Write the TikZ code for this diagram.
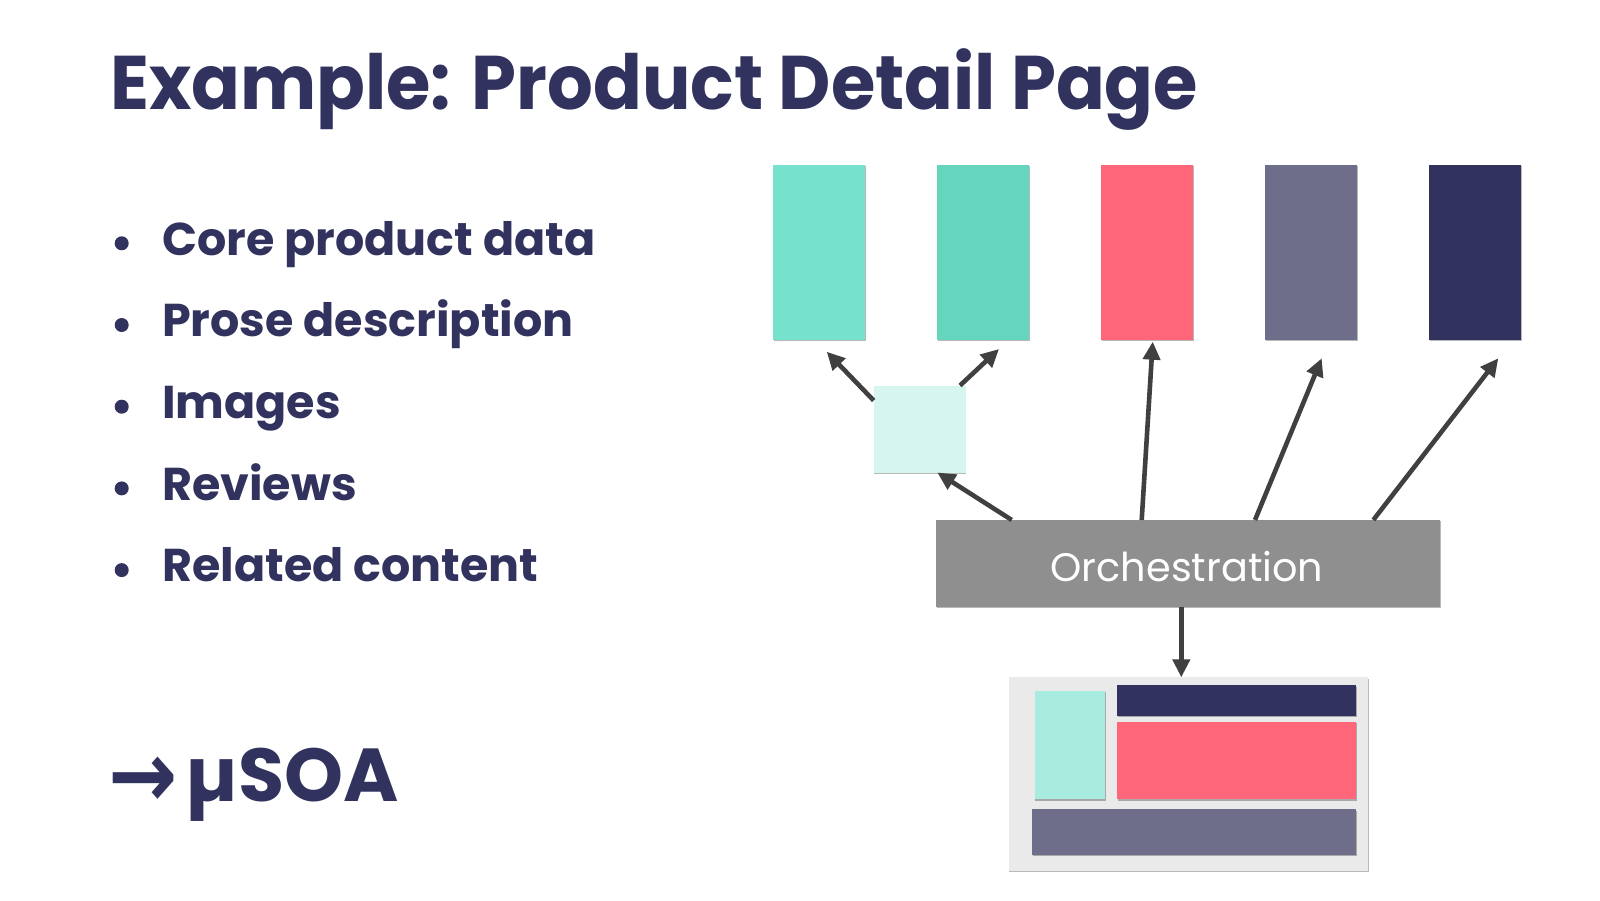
\documentclass[tikz,border=0pt]{standalone}
\usepackage{fontspec}
\setmainfont{Poppins}
\newfontfamily\arrowfont{DejaVu Sans}
\usetikzlibrary{arrows.meta,shadows}
\definecolor{navy}{HTML}{31325E}
\definecolor{tealA}{HTML}{76E1CC}
\definecolor{tealB}{HTML}{65D5BE}
\definecolor{coral}{HTML}{FF6679}
\definecolor{slate}{HTML}{6E6E8A}
\definecolor{mint}{HTML}{D5F5EE}
\definecolor{mintB}{HTML}{A8ECDF}
\definecolor{orchgray}{HTML}{8F8F8F}
\definecolor{pagegray}{HTML}{EAEAEA}
\definecolor{arrowgray}{HTML}{404040}
\tikzset{
  blk/.style={inner sep=0pt, outer sep=0pt, draw=none,
    drop shadow={shadow xshift=0.6pt, shadow yshift=-1.2pt, opacity=0.28, fill=black}},
  svc/.style={blk, minimum width=92pt, minimum height=175pt},
  arr/.style={draw=arrowgray, line width=4.6pt, -{Triangle[length=18pt,width=17pt]}},
  bullettext/.style={anchor=base west, inner sep=0pt, text=navy, font=\fontsize{46}{50}\selectfont\bfseries},
  bdot/.style={circle, fill=navy, inner sep=0pt, minimum size=14pt, draw=none}
}
\begin{document}
\begin{tikzpicture}[x=1pt,y=-1pt]
\useasboundingbox[fill=white] (0,0) rectangle (1600,900);
% title
\node[anchor=base west, inner sep=0pt, text=navy, font=\fontsize{76}{80}\selectfont\bfseries] (title) at (110,109.3) {\scalebox{0.947}[1]{Example: Product Detail Page}};
% bullets
\node[bdot] (d1) at (121.7,243.3) {};
\node[bdot] (d2) at (121.7,325.0) {};
\node[bdot] (d3) at (121.7,406.7) {};
\node[bdot] (d4) at (121.7,488.4) {};
\node[bdot] (d5) at (121.7,570.1) {};
\node[bullettext] (t1) at (162,255.0) {Core product data};
\node[bullettext] (t2) at (162,336.7) {Prose description};
\node[bullettext] (t3) at (162,418.4) {Images};
\node[bullettext] (t4) at (162,500.1) {Reviews};
\node[bullettext] (t5) at (162,581.8) {Related content};
% muSOA
\node[anchor=base west, inner sep=0pt, text=navy, font=\fontsize{72}{80}\selectfont\arrowfont\bfseries] (musoaarrow) at (108,807) {\scalebox{1.15}[1.3]{→}};
\node[anchor=base west, inner sep=0pt, text=navy, font=\fontsize{75}{80}\selectfont\bfseries] (musoa) at (185,801.7) {µSOA};
% services
\node[svc, fill=tealA] (b1) at (819,252.5) {};
\node[svc, fill=tealB] (b2) at (983,252.5) {};
\node[svc, fill=coral] (b3) at (1147,252.5) {};
\node[svc, fill=slate] (b4) at (1311,252.5) {};
\node[svc, fill=navy] (b5) at (1475,252.5) {};
\node[blk, fill=mint, minimum width=92pt, minimum height=87pt] (small) at (919.7,429) {};
% orchestration
\node[blk, fill=orchgray, minimum width=504pt, minimum height=86.7pt] (orch) at (1188,563.3) {};
\node[anchor=base, inner sep=0pt, text=white, font=\fontsize{39.8}{44}\selectfont] (orchlabel) at (1187,581.7) {Orchestration};
% page
\node[blk, fill=pagegray, minimum width=359.6pt, minimum height=193.4pt] (page) at (1188.5,774) {};
\node[blk, fill=mintB, minimum width=70.6pt, minimum height=108.3pt] (pteal) at (1070,745.2) {};
\node[blk, fill=navy, minimum width=238.7pt, minimum height=30.4pt] (pnavy) at (1236.7,700.5) {};
\node[blk, fill=coral, minimum width=238.7pt, minimum height=77.3pt] (pcoral) at (1236.7,760.7) {};
\node[blk, fill=slate, minimum width=324pt, minimum height=45.7pt] (pslate) at (1194,832.2) {};
% arrows
\draw[arr] ([yshift=28.5pt]small.west) -- ([xshift=7.7pt,yshift=-11.7pt]b1.south);
\draw[arr] ([xshift=40.3pt]small.north) -- ([xshift=16pt,yshift=-9pt]b2.south);
\draw[arr] ([xshift=75.7pt]orch.north west) -- ([xshift=17.6pt]small.south);
\draw[arr] ([xshift=205.7pt]orch.north west) -- ([xshift=5.7pt,yshift=-1.7pt]b3.south);
\draw[arr] ([xshift=319pt]orch.north west) -- ([xshift=10.7pt,yshift=-18.3pt]b4.south);
\draw[arr] ([xshift=437.3pt]orch.north west) -- ([xshift=23.3pt,yshift=-18.3pt]b5.south);
\draw[arr] ([xshift=-6.7pt]orch.south) -- ([xshift=-7.2pt]page.north);
\end{tikzpicture}
\end{document}
